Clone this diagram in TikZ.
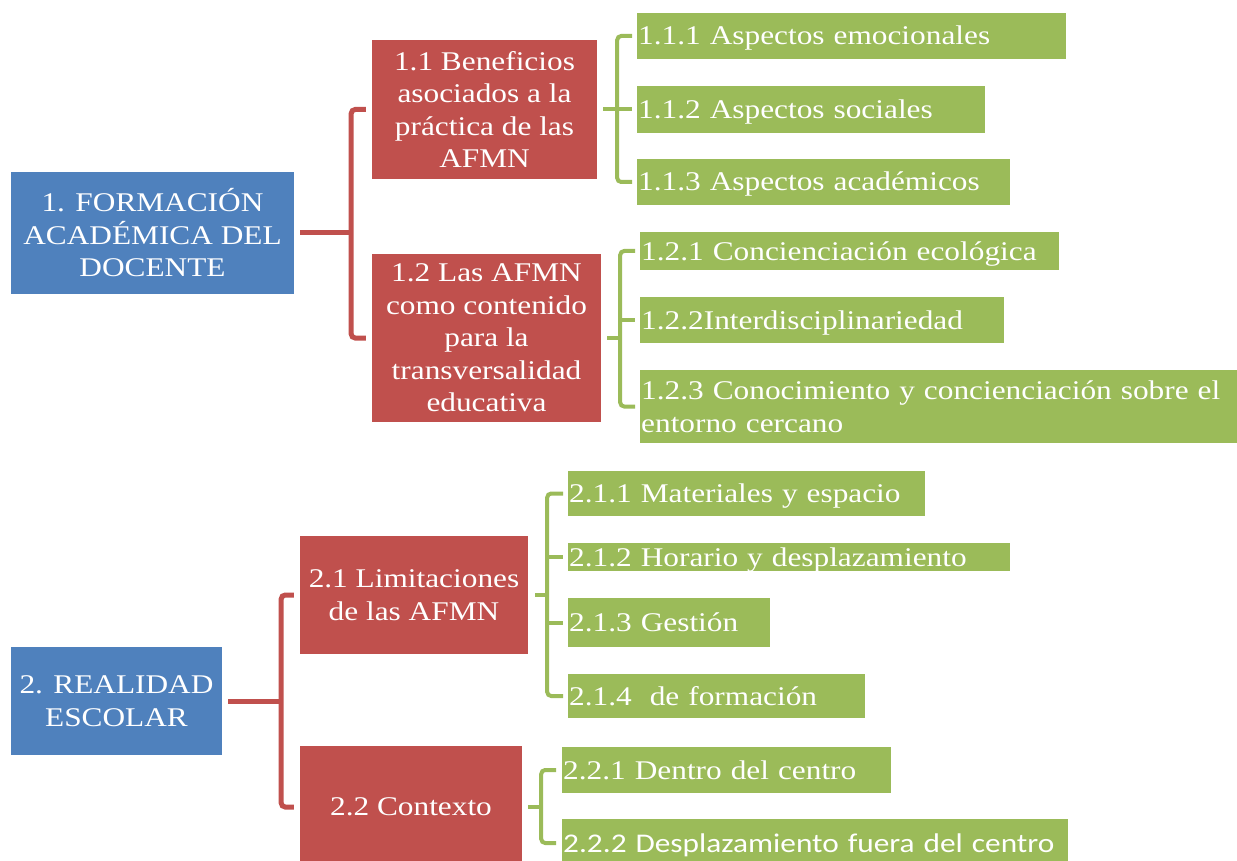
\documentclass[tikz,border=0pt]{standalone}
\usepackage{fontspec}
\setmainfont{Liberation Serif}[FakeStretch=1.16]
\newfontfamily\calibrifont{Carlito}[FakeStretch=1.16]
\usepackage{tikz}

\definecolor{boxblue}{HTML}{4F81BD}
\definecolor{boxred}{HTML}{C0504D}
\definecolor{boxgreen}{HTML}{9BBB59}

\begin{document}
\begin{tikzpicture}[x=1pt, y=-1pt,
	font=\fontsize{27}{32.5}\selectfont,
	box/.style={shape=rectangle, inner sep=0pt, text=white},
	bluebox/.style={box, fill=boxblue, align=center},
	redbox/.style={box, fill=boxred, align=center},
	greenbox/.style={box, fill=boxgreen, anchor=west, align=left, inner xsep=1pt, text height=20pt, text depth=2pt},
	redline/.style={draw=boxred, line width=5pt},
	greenline/.style={draw=boxgreen, line width=4pt}]

	\useasboundingbox (0,0) rectangle (1237,861);

	% first block
	\node[bluebox, minimum width=283pt, minimum height=122pt] (f1) at (152.5,233) {1. FORMACIÓN\\ACADÉMICA DEL\\DOCENTE};
	\node[redbox, minimum width=225pt, minimum height=139pt] (b11) at (484.5,109.5) {1.1 Beneficios\\asociados a la\\práctica de las\\AFMN};
	\node[redbox, minimum width=229pt, minimum height=168pt] (b12) at (486.5,338) {1.2 Las AFMN\\como contenido\\para la\\transversalidad\\educativa};

	\node[greenbox, text width=427pt, minimum height=46pt] (g111) at (637,36)    {1.1.1 Aspectos emocionales};
	\node[greenbox, text width=346pt, minimum height=47pt] (g112) at (637,109.5) {1.1.2 Aspectos sociales};
	\node[greenbox, text width=371pt, minimum height=46pt] (g113) at (637,182)   {1.1.3 Aspectos académicos};
	\node[greenbox, text width=417pt, minimum height=38pt] (g121) at (640,251)   {1.2.1 Concienciación ecológica};
	\node[greenbox, text width=362pt, minimum height=46pt] (g122) at (640,320)   {1.2.2Interdisciplinariedad};
	\node[greenbox, text height={}, text depth={}, text width=595pt, minimum height=73pt] (g123) at (640,406.5) {1.2.3 Conocimiento y concienciación sobre el\\entorno cercano};

	% second block
	\node[bluebox, minimum width=211pt, minimum height=108pt] (f2) at (116.5,701) {2. REALIDAD\\ESCOLAR};
	\node[redbox, minimum width=228pt, minimum height=118pt] (b21) at (414,595) {2.1 Limitaciones\\de las AFMN};
	\node[redbox, minimum width=222pt, minimum height=122pt] (b22) at (411,807) {2.2 Contexto};

	\node[greenbox, text width=355pt, minimum height=45pt] (g211) at (568,493.5) {2.1.1 Materiales y espacio};
	\node[greenbox, text width=440pt, minimum height=28pt] (g212) at (568,557)   {2.1.2 Horario y desplazamiento};
	\node[greenbox, text width=200pt, minimum height=49pt] (g213) at (568,622.5) {2.1.3 Gestión};
	\node[greenbox, text width=295pt, minimum height=44pt] (g214) at (568,696)   {2.1.4\ \ de formación};
	\node[greenbox, text width=327pt, minimum height=46pt] (g221) at (562,770)   {2.2.1 Dentro del centro};
	\node[greenbox, text width=504pt, minimum height=48pt] (g222) at (562,843)   {\calibrifont 2.2.2 Desplazamiento fuera del centro};

	% brackets
	\draw[redline, shorten <=6pt] (f1.east) -- ++(57,0) coordinate (f1j);
	\draw[redline, rounded corners=4pt, shorten <=6pt, shorten >=6pt] (b11.west) -| (f1j) |- (b12.west);

	\draw[greenline, shorten <=6pt] (b11.east) -- ++(20,0) coordinate (b11j);
	\draw[greenline, rounded corners=4pt, shorten <=5pt, shorten >=5pt] (g111.west) -| (b11j) |- (g113.west);
	\draw[greenline, shorten >=5pt] (b11j) -- (g112.west);

	\draw[greenline, shorten <=6pt] (b12.east) -- ++(19,0) coordinate (b12j);
	\draw[greenline, rounded corners=4pt, shorten <=5pt, shorten >=5pt] (g121.west) -| (b12j) |- (g123.west);
	\draw[greenline, shorten >=5pt] (b12j |- g122.west) -- (g122.west);

	\draw[redline, shorten <=6pt] (f2.east) -- ++(59,0) coordinate (f2j);
	\draw[redline, rounded corners=4pt, shorten <=6pt, shorten >=6pt] (b21.west) -| (f2j) |- (b22.west);

	\draw[greenline, shorten <=7pt] (b21.east) -- ++(19,0) coordinate (b21j);
	\draw[greenline, rounded corners=4pt, shorten <=5pt, shorten >=5pt] (g211.west) -| (b21j) |- (g214.west);
	\foreach \g in {g212, g213}
		\draw[greenline, shorten >=5pt] (b21j |- \g.west) -- (\g.west);

	\draw[greenline, shorten <=6pt] (b22.east) -- ++(19,0) coordinate (b22j);
	\draw[greenline, rounded corners=4pt, shorten <=6pt, shorten >=6pt] (g221.west) -| (b22j) |- (g222.west);

\end{tikzpicture}
\end{document}
